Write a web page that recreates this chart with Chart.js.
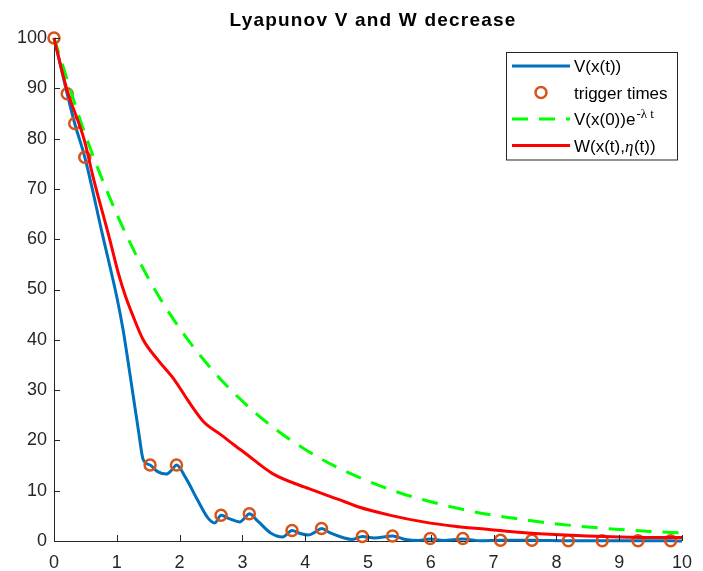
<!DOCTYPE html>
<html>
<head>
<meta charset="utf-8">
<script src="https://cdn.jsdelivr.net/npm/chart.js@4.4.1/dist/chart.umd.min.js"></script>
<style>
  html, body { margin: 0; padding: 0; background: #ffffff; }
  #wrap { width: 703px; height: 571px; position: relative; }
  canvas { display: block; }
</style>
</head>
<body>
<div id="wrap"><canvas id="c" width="703" height="571"></canvas></div>
<script>
// ---- data ----
const titleText = 'Lyapunov V and W decrease';
const xTicks = [0, 1, 2, 3, 4, 5, 6, 7, 8, 9, 10];
const yTicks = [0, 10, 20, 30, 40, 50, 60, 70, 80, 90, 100];

// V(x(t))
const tV = [0, 0.21, 0.33, 0.49, 0.77, 1.00, 1.10, 1.19, 1.35, 1.42, 1.53, 1.65, 1.79, 1.88, 1.95,
            2.10, 2.28, 2.45, 2.56, 2.66, 2.80, 2.96, 3.03, 3.11, 3.25, 3.45, 3.64, 3.79, 3.92, 4.05, 4.15,
            4.26, 4.40, 4.62, 4.75, 4.91, 5.10, 5.39, 5.60, 5.80, 5.99, 6.20, 6.51, 6.80, 7.11, 7.61, 8.19,
            8.73, 9.30, 9.82, 10];
const vV = [100, 88.9, 83.0, 76.3, 61.0, 48.5, 42.0, 34.8, 21.5, 16.2, 15.1, 13.8, 13.3, 14.2, 15.1,
            12.5, 8.3, 4.6, 3.6, 5.1, 4.4, 3.8, 4.5, 5.4, 3.9, 1.6, 0.8, 2.1, 1.5, 1.2, 1.7,
            2.5, 1.6, 0.6, 0.3, 0.9, 0.6, 1.0, 0.3, 0.1, 0.4, 0.1, 0.4, 0.05, 0.15, 0.15, 0.05,
            0.05, 0.03, 0.03, 0.02];

// trigger times
const tTrig = [0, 0.21, 0.33, 0.49, 1.53, 1.95, 2.66, 3.11, 3.79, 4.26, 4.91, 5.39, 5.99, 6.51, 7.11, 7.61,
               8.19, 8.73, 9.30, 9.82];
const vTrig = [100, 88.9, 83.0, 76.3, 15.1, 15.1, 5.1, 5.4, 2.1, 2.5, 0.9, 1.0, 0.5, 0.5, 0.15, 0.15,
               0.05, 0.05, 0.03, 0.03];

// V(x(0)) e^{-lambda t}
const tB = [0, 0.5, 1, 1.5, 2, 2.5, 3, 3.5, 4, 4.5, 5, 5.5, 6, 6.5, 7, 7.5, 8, 8.5, 9, 9.5, 10];
const vB = [100, 80.7, 65.0, 52.3, 42.3, 34.3, 27.8, 22.5, 18.2, 14.7, 11.9, 9.6, 7.8, 6.3, 5.1, 4.2,
            3.4, 2.8, 2.3, 1.9, 1.6];

// W(x(t), eta(t))
const tW = [0, 0.2, 0.485, 0.62, 0.876, 1.03, 1.14, 1.24, 1.42, 1.66, 1.92, 2.13, 2.39, 2.65, 2.91, 3.02,
            3.48, 4.06, 4.63, 4.84, 5.36, 5.88, 6.41, 6.93, 7.45, 7.97, 8.49, 9.01, 9.54, 10];
const wW = [100, 90.0, 79.6, 72.5, 60.5, 53.0, 48.6, 45.3, 40.0, 35.9, 32.0, 28.0, 23.6, 21.2, 18.7, 17.7,
            13.4, 10.4, 7.8, 6.8, 5.1, 3.8, 2.9, 2.3, 1.7, 1.3, 1.0, 0.8, 0.7, 0.7];

const legendLabels = ['V(x(t))', 'trigger times', 'V(x(0))e', 'W(x(t),'];

const pts = (xs, ys) => xs.map((x, i) => ({ x: x, y: ys[i] }));

const COL_V = '#0072BD', COL_T = '#D95319', COL_B = '#00FF00', COL_W = '#FF0000';
const AX = '#262626';
const FONT = '"Liberation Sans", Arial, Helvetica, sans-serif';

const titlePlugin = {
  id: 'titleP',
  afterDraw(chart) {
    const ctx = chart.ctx, a = chart.chartArea;
    ctx.save();
    ctx.fillStyle = '#000';
    ctx.font = 'bold 19px ' + FONT;
    try { ctx.letterSpacing = '1.2px'; } catch (e) {}
    ctx.textAlign = 'center';
    ctx.textBaseline = 'alphabetic';
    ctx.fillText(titleText, (a.left + a.right) / 2 + 5, 26);
    ctx.restore();
  }
};

const ticksPlugin = {
  id: 'inTicks',
  afterDatasetsDraw(chart) {
    const ctx = chart.ctx, a = chart.chartArea;
    const xs = chart.scales.x, ys = chart.scales.y;
    ctx.save();
    ctx.strokeStyle = AX;
    ctx.lineWidth = 1;
    ctx.beginPath();
    xTicks.forEach(v => {
      const px = Math.round(xs.getPixelForValue(v)) + 0.5;
      ctx.moveTo(px, a.bottom); ctx.lineTo(px, a.bottom - 6);
    });
    yTicks.forEach(v => {
      const py = Math.round(ys.getPixelForValue(v)) + 0.5;
      ctx.moveTo(a.left, py); ctx.lineTo(a.left + 6, py);
    });
    ctx.stroke();
    ctx.restore();
  }
};

const legendPlugin = {
  id: 'legendP',
  afterDraw(chart) {
    const ctx = chart.ctx;
    const bx = 506.5, by = 52.5, bw = 171, bh = 107.5;
    ctx.save();
    ctx.fillStyle = '#fff';
    ctx.fillRect(bx, by, bw, bh);
    ctx.strokeStyle = AX;
    ctx.lineWidth = 1;
    ctx.strokeRect(bx, by, bw, bh);
    const x0 = 512, x1 = 570, tx = 574;
    const rows = [66, 92.5, 119, 145.5];
    ctx.lineWidth = 3;
    ctx.strokeStyle = COL_V;
    ctx.beginPath(); ctx.moveTo(x0, rows[0]); ctx.lineTo(x1, rows[0]); ctx.stroke();
    ctx.strokeStyle = COL_T; ctx.lineWidth = 2.5;
    ctx.beginPath(); ctx.arc((x0 + x1) / 2, rows[1], 5.5, 0, Math.PI * 2); ctx.stroke();
    ctx.strokeStyle = COL_B; ctx.lineWidth = 3;
    ctx.setLineDash([16, 11]);
    ctx.beginPath(); ctx.moveTo(x0, rows[2]); ctx.lineTo(x1, rows[2]); ctx.stroke();
    ctx.setLineDash([]);
    ctx.strokeStyle = COL_W;
    ctx.beginPath(); ctx.moveTo(x0, rows[3]); ctx.lineTo(x1, rows[3]); ctx.stroke();

    ctx.fillStyle = '#000';
    ctx.textBaseline = 'alphabetic';
    ctx.textAlign = 'left';
    ctx.font = '17px ' + FONT;
    ctx.fillText(legendLabels[0], tx, rows[0] + 6);
    ctx.fillText(legendLabels[1], tx, rows[1] + 6);
    ctx.fillText(legendLabels[2], tx, rows[2] + 6);
    let w = ctx.measureText(legendLabels[2]).width;
    ctx.font = '13px "Liberation Serif", "Times New Roman", serif';
    ctx.fillText('-\u03BB t', tx + w + 1, rows[2] - 1);
    ctx.font = '17px ' + FONT;
    ctx.fillText(legendLabels[3], tx, rows[3] + 6);
    w = ctx.measureText(legendLabels[3]).width;
    ctx.font = 'italic 17px "Liberation Serif", "Times New Roman", serif';
    ctx.fillText('\u03B7', tx + w, rows[3] + 6);
    const w2 = ctx.measureText('\u03B7').width;
    ctx.font = '17px ' + FONT;
    ctx.fillText('(t))', tx + w + w2 + 0.5, rows[3] + 6);
    ctx.restore();
  }
};

new Chart(document.getElementById('c'), {
  type: 'line',
  data: {
    datasets: [
      { label: 'W(x(t),η(t))', data: pts(tW, wW), borderColor: COL_W, borderWidth: 3,
        pointRadius: 0, cubicInterpolationMode: 'monotone', order: 0 },
      { label: 'V(x(0))e^{-λt}', data: pts(tB, vB), borderColor: COL_B, borderWidth: 3,
        borderDash: [16, 11], pointRadius: 0, cubicInterpolationMode: 'monotone', order: 1 },
      { label: 'trigger times', data: pts(tTrig, vTrig), showLine: false, pointStyle: 'circle',
        pointRadius: 5.5, pointBorderWidth: 2.5, pointBorderColor: COL_T,
        pointBackgroundColor: 'rgba(0,0,0,0)', borderColor: COL_T, order: 2 },
      { label: 'V(x(t))', data: pts(tV, vV), borderColor: COL_V, borderWidth: 3,
        pointRadius: 0, cubicInterpolationMode: 'monotone', order: 3 }
    ]
  },
  options: {
    responsive: false,
    animation: false,
    devicePixelRatio: 1,
    clip: false,
    layout: { padding: { top: 38, right: 10, left: 0, bottom: 0 } },
    plugins: { legend: { display: false }, title: { display: false }, tooltip: { enabled: false } },
    scales: {
      x: {
        type: 'linear', min: 0, max: 10,
        afterFit(s) { s.height = 30; },
        afterBuildTicks(s) { s.ticks = xTicks.map(v => ({ value: v })); },
        grid: { display: false, drawTicks: false },
        border: { display: true, color: AX, width: 1 },
        ticks: { color: AX, font: { family: FONT, size: 18 }, padding: 11, maxRotation: 0, autoSkip: false }
      },
      y: {
        type: 'linear', min: 0, max: 100,
        afterFit(s) { s.width = 54; },
        afterBuildTicks(s) { s.ticks = yTicks.map(v => ({ value: v })); },
        grid: { display: false, drawTicks: false },
        border: { display: true, color: AX, width: 1 },
        ticks: { color: AX, font: { family: FONT, size: 18 }, padding: 7, autoSkip: false }
      }
    }
  },
  plugins: [ticksPlugin, titlePlugin, legendPlugin]
});
</script>
</body>
</html>
